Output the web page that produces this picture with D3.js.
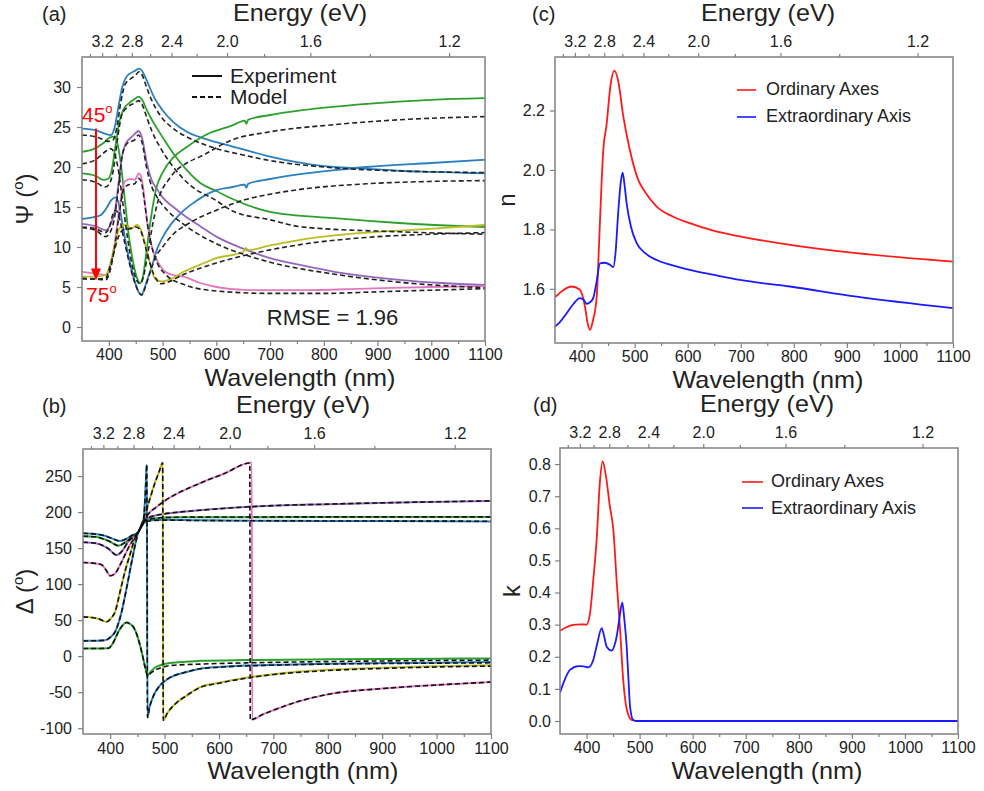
<!DOCTYPE html>
<html><head><meta charset="utf-8">
<script src="https://cdn.jsdelivr.net/npm/d3@7"></script>
<style>
body{margin:0;background:#fff;}
svg{display:block;font-family:Arial,"Liberation Sans",Helvetica,sans-serif;}
</style></head><body>
<svg id="chart" width="984" height="791"></svg>
<script>
// ---------- axis tick values ----------
const wlTicks = [400,500,600,700,800,900,1000,1100];
const wlMinor = [450,550,650,750,850,950,1050];
const eMajor = [3.2,2.8,2.4,2.0,1.6,1.2];
const eMinor = [3.4,3.0,2.6,2.2,1.8,1.4];
const psiTicks = [0,5,10,15,20,25,30];
const deltaTicks = [-100,-50,0,50,100,150,200,250];
const nTicks = [1.6,1.8,2.0,2.2];
const kTicks = [0,0.1,0.2,0.3,0.4,0.5,0.6,0.7,0.8];

// ---------- (a) Psi : experiment ----------
const psiExpBlueA = [[350,24.8],[375,24.6],[395,24.1],[404,24.0],[411,25.0],[418,27.6],[425,30.0],[432,31.2],[440,31.7],[448,32.0],[456,32.3],[462,32.0],[468,31.2],[475,30.1],[485,28.6],[500,27.1],[520,25.6],[545,24.4],[575,23.6],[600,23.1],[650,22.2],[700,21.3],[750,20.6],[800,20.1],[850,19.9],[900,19.7],[950,19.5],[1000,19.4],[1050,19.3],[1100,19.2]];
const psiExpGreenA = [[350,21.9],[370,22.2],[390,23.0],[402,23.7],[410,23.8],[415,23.2],[420,21.5],[428,17.0],[436,12.0],[444,8.5],[452,6.2],[458,5.5],[464,6.5],[470,9.5],[478,13.5],[488,17.3],[500,19.3],[520,21.2],[545,22.5],[580,24.0],[630,25.2],[653,25.8],[656,25.4],[659,25.9],[700,26.5],[760,27.1],[880,27.9],[1000,28.4],[1100,28.6]];
const psiExpGreenB = [[350,19.2],[375,18.9],[390,18.4],[398,18.5],[405,19.5],[412,22.5],[420,25.8],[428,27.3],[438,28.0],[448,28.5],[455,28.8],[462,28.4],[470,27.2],[480,25.9],[490,24.8],[505,23.2],[520,21.7],[545,19.6],[570,18.0],[600,17.0],[630,16.0],[700,14.4],[820,13.6],[940,13.0],[1100,12.5]];
const psiExpBlueB = [[350,13.5],[370,13.7],[385,14.0],[395,14.8],[405,15.9],[412,16.2],[418,15.5],[425,13.0],[433,10.0],[441,7.5],[450,5.3],[456,4.3],[461,4.0],[466,4.8],[472,6.0],[480,7.6],[490,9.8],[500,11.2],[515,12.8],[535,14.3],[553,15.3],[575,16.3],[600,17.1],[630,17.5],[653,17.8],[656,17.4],[659,17.9],[700,18.5],[756,19.1],[820,19.6],[880,20.0],[1000,20.5],[1100,20.9]];
const psiExpPurple = [[350,12.9],[375,12.6],[394,12.1],[403,12.8],[412,14.8],[419,18.5],[425,21.5],[432,23.0],[440,23.6],[448,24.1],[455,24.5],[462,23.6],[470,20.7],[480,18.3],[489,17.3],[500,16.2],[520,15.0],[539,14.0],[570,12.6],[600,11.3],[650,9.8],[700,8.6],[760,7.7],[820,6.9],[940,5.9],[1020,5.5],[1100,5.25]];
const psiExpPink = [[350,6.9],[375,6.7],[394,6.5],[405,8.2],[412,11.0],[418,14.0],[424,16.8],[430,18.2],[440,18.5],[448,18.4],[456,19.2],[460,18.8],[464,17.3],[468,15.0],[473,12.3],[479,10.3],[485,9.0],[495,7.7],[505,6.9],[520,6.5],[539,6.3],[570,5.5],[600,5.0],[660,4.6],[756,4.6],[880,4.8],[1000,5.0],[1100,5.1]];
const psiExpYellow = [[350,6.3],[375,6.3],[394,6.5],[403,8.0],[410,10.0],[415,11.5],[422,12.5],[430,12.75],[437,12.5],[442,12.3],[448,12.6],[452,12.75],[457,12.5],[461,11.9],[467,10.5],[473,9.0],[479,7.4],[485,6.1],[492,5.8],[500,5.7],[515,6.0],[539,6.9],[570,7.8],[600,8.6],[650,9.4],[655,9.9],[659,9.6],[700,10.2],[756,10.9],[880,11.8],[1004,12.3],[1100,12.75]];
// ---------- (a) Psi : model ----------
const psiModBlueA = [[350,24.0],[380,23.7],[400,23.2],[408,23.4],[415,25.0],[422,28.0],[430,30.3],[440,31.0],[450,31.5],[456,31.9],[462,31.5],[470,30.0],[480,28.3],[495,26.5],[520,24.8],[550,23.6],[600,22.3],[650,21.5],[700,20.8],[800,20.0],[900,19.6],[1000,19.4],[1100,19.3]];
const psiModGreenA = [[350,20.4],[375,20.9],[395,22.0],[403,22.3],[410,21.8],[418,19.5],[426,15.5],[435,11.0],[444,7.5],[452,5.8],[458,5.4],[464,6.2],[472,9.0],[482,13.0],[495,16.5],[510,18.3],[520,19.2],[545,20.5],[570,21.3],[630,23.4],[700,24.4],[820,25.3],[940,25.9],[1100,26.3]];
const psiModGreenB = [[350,18.4],[375,18.1],[393,17.5],[400,17.8],[408,19.5],[416,23.5],[424,26.5],[435,27.5],[448,28.0],[455,28.3],[462,27.8],[470,26.3],[480,24.5],[495,22.5],[520,20.0],[550,17.8],[600,15.8],[630,14.5],[700,13.4],[760,12.5],[940,11.9],[1100,11.6]];
const psiModBlueB = [[350,12.5],[375,12.3],[393,11.8],[400,12.3],[407,14.0],[413,14.6],[420,13.5],[428,11.0],[437,8.3],[446,6.0],[454,4.6],[461,4.0],[468,5.0],[476,6.7],[486,8.6],[500,10.0],[520,11.6],[550,13.0],[600,14.6],[653,15.9],[700,16.6],[756,17.2],[880,17.9],[1000,18.2],[1100,18.3]];
const psiModPurple = [[350,12.4],[375,12.1],[394,11.3],[402,11.8],[410,13.5],[418,17.5],[425,21.5],[435,23.0],[448,23.4],[455,24.0],[462,23.0],[470,20.0],[480,17.5],[490,16.2],[510,14.5],[540,12.8],[600,10.4],[650,9.1],[700,8.1],[820,6.6],[940,5.6],[1100,4.9]];
const psiModPink = [[350,6.1],[375,6.0],[394,5.9],[404,7.5],[412,10.5],[420,14.5],[428,17.3],[438,17.8],[448,17.9],[455,18.6],[460,18.2],[466,15.8],[472,12.8],[480,10.0],[490,8.0],[505,6.6],[540,5.3],[600,4.5],[700,4.2],[800,4.2],[900,4.4],[1000,4.6],[1100,4.8]];
const psiModYellow = [[350,6.0],[375,6.0],[394,6.1],[402,7.5],[410,9.5],[418,11.3],[428,12.2],[440,12.3],[450,12.5],[458,12.2],[465,10.8],[472,9.0],[480,7.2],[488,6.0],[496,5.4],[505,5.5],[540,6.6],[600,8.0],[656,9.0],[756,10.3],[880,11.2],[1000,11.6],[1100,11.8]];

// ---------- (b) Delta : experiment ----------
const dExpBlueTop = [[350,170.5],[372,169.5],[390,167],[403,163.5],[418,159.7],[430,163],[440,167.5],[452,172.6],[461,184],[470,188],[485,189],[500,189.3],[565,188.5],[700,188],[900,187.5],[1100,187]];
const dExpGreenTop = [[350,166.5],[372,165.7],[390,162],[400,158.8],[415,153.2],[428,158],[440,165],[452,172.6],[461,185.5],[470,189.5],[485,191.5],[500,192.5],[565,192.8],[800,193],[1100,193]];
const dExpPurple = [[350,158],[375,156.5],[396,149.5],[412,140.3],[422,146],[433,158.8],[452,172.6],[461,186.6],[470,192],[485,195.5],[500,197.5],[565,202.5],[657,207.4],[800,211],[950,213.5],[1100,215.5]];
const dExpPink = [[350,130],[370,129],[384,127],[392,120],[400,111.6],[409,114.8],[421,131],[436,154],[452,172.6],[461,187],[472,199],[485,207],[498,214.4],[565,240],[610,253.5],[660,268.8],[661,-88],[680,-81],[700,-75],[750,-62],[800,-53],[900,-45],[1000,-40],[1100,-36]];
const dExpYellow = [[350,54.6],[378,52],[393.5,47.7],[402,53],[409,61.5],[418,89],[427,117],[436,140],[445.6,163.5],[452,172.6],[461,190],[470,211],[482,240],[490,256],[496.5,268.5],[497.5,-89],[505,-79],[520,-66],[540,-55],[565,-43],[600,-37],[650,-30],[700,-25],[800,-19],[900,-16],[1000,-14],[1100,-12.5]];
const dExpBlueB = [[350,21.3],[372,21.5],[390,22],[400,26],[409,33.8],[421,61.5],[430,94],[439.5,131],[448.7,163.5],[452,172.6],[458,181],[461,187],[463.5,210],[465.5,240],[467.3,266],[468.5,-85],[472,-72],[479,-56],[490,-42],[505,-32],[540,-22],[565,-17.5],[600,-15],[700,-12],[800,-10.5],[1000,-9],[1100,-8]];
const dExpGreenB = [[350,10.6],[375,10.6],[396.5,11],[405,18],[415,33.8],[423,43],[430,46.7],[436,45],[442.5,40.7],[449,30],[454.8,15.3],[460,-1],[464,-14.8],[469,-26.5],[474,-22],[482,-16],[495,-12],[510,-9.5],[565,-6.5],[650,-5.3],[800,-4.3],[1000,-3.6],[1100,-3.2]];
// ---------- (b) Delta : model ----------
const dModBlueTop = [[350,170.5],[372,169.5],[390,167],[403,163.5],[418,159.7],[430,163],[440,167.5],[452,172.6],[461,184],[470,187.5],[485,188.5],[500,188.8],[565,188.2],[700,187.8],[900,187.5],[1100,187.3]];
const dModGreenTop = [[350,166.5],[372,165.7],[390,162],[400,158.8],[415,153.2],[428,158],[440,165],[452,172.6],[461,185.5],[470,189.5],[485,191.5],[500,192.5],[565,193],[800,193.3],[1100,193.3]];
const dModPurple = [[350,158],[375,156.5],[396,149.5],[412,140.3],[422,146],[433,158.8],[452,172.6],[461,186.6],[470,192],[485,195.5],[500,197.5],[565,202.5],[657,207.4],[800,211],[950,213.5],[1100,215.5]];
const dModPink = [[350,130],[370,129],[384,127],[392,120],[400,111.6],[409,114.8],[421,131],[436,154],[452,172.6],[461,187],[472,199],[485,207],[498,214.4],[565,240],[610,253.5],[656.5,268],[657.5,-89],[661,-88],[680,-81],[700,-75],[750,-62],[800,-53],[900,-45],[1000,-40],[1100,-36]];
const dModYellow = [[350,54.6],[378,52],[393.5,47.7],[402,53],[409,61.5],[418,89],[427,117],[436,140],[445.6,163.5],[452,172.6],[461,190],[470,211],[482,240],[490,256],[496.5,268.5],[497.5,-89],[505,-79],[520,-66],[540,-55],[565,-43.5],[600,-37.5],[650,-30.5],[700,-25.5],[800,-20],[900,-17],[1000,-15],[1100,-13.8]];
const dModBlueB = [[350,21.3],[372,21.5],[390,22],[400,26],[409,33.8],[421,61.5],[430,94],[439.5,131],[448.7,163.5],[452,172.6],[458,181],[461,187],[463.5,210],[465.5,240],[467.3,266],[468.5,-85],[472,-72],[479,-56],[490,-42],[505,-32],[540,-22],[565,-17.5],[600,-15.3],[700,-12.5],[800,-11],[1000,-9.7],[1100,-9.2]];
const dModGreenB = [[350,10.6],[375,10.6],[396.5,11],[405,18],[415,33.8],[423,43],[430,46.7],[436,45],[442.5,40.7],[449,30],[454.8,15.3],[460,-1],[464,-15],[469,-27.5],[474,-24],[482,-19.5],[495,-15.5],[510,-13],[565,-11],[650,-9.3],[800,-7.5],[1000,-6],[1100,-5.5]];

// ---------- (c) n ----------
const nOrdinary = [[350,1.572],[365,1.595],[381,1.608],[397,1.597],[406,1.545],[412,1.48],[416,1.462],[421,1.49],[428.6,1.574],[433,1.75],[438,1.966],[441,2.067],[447,2.15],[455,2.29],[461.8,2.334],[469,2.30],[478.7,2.18],[491,2.067],[507,1.966],[520,1.925],[541.6,1.877],[570,1.845],[604,1.821],[650,1.795],[700,1.776],[793,1.748],[918,1.72],[1100,1.692]];
const nExtra = [[350,1.473],[360,1.49],[372,1.518],[385,1.55],[397,1.569],[404,1.563],[409.7,1.55],[416,1.555],[422,1.569],[428,1.62],[434.8,1.686],[444,1.688],[453.6,1.681],[459.9,1.673],[464,1.72],[469,1.854],[474,1.96],[477.5,1.991],[481,1.95],[485,1.888],[493,1.81],[504,1.754],[520,1.72],[541.6,1.697],[570,1.68],[604,1.664],[650,1.647],[698.6,1.63],[793,1.608],[918.5,1.574],[1100,1.535]];
// ---------- (d) k ----------
const kOrdinary = [[350,0.281],[362,0.292],[375,0.299],[390,0.301],[400,0.30],[406.5,0.335],[412.7,0.439],[419,0.564],[425,0.74],[430.4,0.808],[436.7,0.761],[444,0.668],[450.5,0.595],[457,0.43],[463,0.29],[469,0.13],[476,0.035],[485,0.003],[495,0],[600,0],[1100,0]];
const kExtra = [[350,0.088],[358,0.125],[368.8,0.159],[384.5,0.171],[395,0.170],[403.3,0.167],[412.7,0.19],[420,0.24],[428.6,0.289],[433,0.265],[438,0.231],[447.4,0.219],[452,0.232],[456.8,0.263],[462,0.32],[467.4,0.369],[471,0.32],[475.7,0.231],[479,0.13],[482,0.045],[488,0.003],[495,0],[600,0],[1100,0]];

const legendA = ["Experiment","Model"];
const legendNK = ["Ordinary Axes","Extraordinary Axis"];
const rmseText = "RMSE = 1.96";
const angleLabels = ["45","75"];

// ---------- drawing ----------
const HC = 1239.84;
const FONT = 'Arial, "Liberation Sans", Helvetica, sans-serif';
const AX = "#808080", TXT = "#222";
const C = {blue:"#2a7fc0", green:"#2ca02c", purple:"#9467bd", pink:"#e377c2", yellow:"#bcbd22"};
const svg = d3.select("#chart");

function panel(cfg){
  const x = d3.scaleLinear().domain([350,1100]).range([cfg.l,cfg.r]);
  const y = d3.scaleLinear().domain(cfg.yDom).range([cfg.b,cfg.t]);
  const g = svg.append("g");
  const id = "clip"+cfg.id;
  svg.append("clipPath").attr("id",id).append("rect")
    .attr("x",cfg.l).attr("y",cfg.t).attr("width",cfg.r-cfg.l).attr("height",cfg.b-cfg.t);
  const axes = g.append("g");
  axes.append("g").attr("transform",`translate(0,${cfg.b})`)
    .call(d3.axisBottom(x).tickValues(wlTicks).tickSize(5).tickPadding(cfg.bpad).tickFormat(d=>String(d)));
  axes.append("g").attr("transform",`translate(0,${cfg.b})`)
    .call(d3.axisBottom(x).tickValues(wlMinor).tickSize(3).tickFormat(""));
  axes.append("g").attr("transform",`translate(0,${cfg.t})`)
    .call(d3.axisTop(x).tickValues(eMajor.map(e=>HC/e)).tickSize(4).tickPadding(6).tickFormat(l=>(HC/l).toFixed(1)));
  axes.append("g").attr("transform",`translate(0,${cfg.t})`)
    .call(d3.axisTop(x).tickValues(eMinor.map(e=>HC/e)).tickSize(3).tickFormat(""));
  axes.append("g").attr("transform",`translate(${cfg.l},0)`)
    .call(d3.axisLeft(y).tickValues(cfg.yTicks).tickSize(5).tickPadding(cfg.lpad).tickFormat(cfg.yFmt));
  axes.selectAll(".domain").remove();
  axes.selectAll(".tick line").attr("stroke",AX).attr("stroke-width",1.2);
  axes.selectAll("g").attr("font-family",FONT).attr("font-size",16);
  axes.selectAll(".tick text").attr("fill",TXT);
  const plot = g.append("g").attr("clip-path",`url(#${id})`);
  const P = {x,y,g,plot,cfg};
  g.append("text").attr("x",cfg.titleX).attr("y",cfg.t-36).attr("text-anchor","middle")
    .attr("font-size",24).attr("fill",TXT).attr("textLength",134).attr("lengthAdjust","spacingAndGlyphs").text("Energy (eV)");
  g.append("text").attr("x",cfg.titleX).attr("y",cfg.b+44.5).attr("text-anchor","middle")
    .attr("font-size",24).attr("fill",TXT).attr("textLength",191).attr("lengthAdjust","spacingAndGlyphs").text("Wavelength (nm)");
  g.append("text").attr("x",cfg.tagX).attr("y",cfg.t-36).attr("font-size",20).attr("fill",TXT).text(cfg.tag);
  return P;
}
function frame(P){
  const c=P.cfg;
  P.g.append("rect").attr("x",c.l).attr("y",c.t).attr("width",c.r-c.l).attr("height",c.b-c.t)
    .attr("fill","none").attr("stroke",AX).attr("stroke-width",1.5);
}
function line(P,data,color,w,dash){
  P.plot.append("path").datum(data).attr("fill","none").attr("stroke",color)
    .attr("stroke-width",w).attr("stroke-dasharray",dash||null).attr("stroke-linejoin","round")
    .attr("d",d3.line().x(d=>P.x(d[0])).y(d=>P.y(d[1])).curve(d3.curveMonotoneX));
}
function supText(parent,x,y,base,sup,tail,size,fill,rot){
  const t = parent.append("text").attr("font-size",size).attr("fill",fill)
    .attr("text-anchor",rot?"middle":"start")
    .attr("transform",rot?`translate(${x},${y}) rotate(-90)`:`translate(${x},${y})`);
  t.append("tspan").text(base);
  t.append("tspan").attr("dy",-size*0.42).attr("font-size",size*0.62).text(sup);
  if(tail) t.append("tspan").attr("dy",size*0.42).text(tail);
  return t;
}

// ----- panel (a)
const A = panel({id:"a",l:82,r:485,t:57,b:341,yDom:[-1.75,33.75],yTicks:psiTicks,yFmt:d=>String(d),bpad:3,lpad:6,titleX:300,tagX:42,tag:"(a)"});
[[psiExpBlueA,C.blue],[psiExpGreenA,C.green],[psiExpGreenB,C.green],[psiExpBlueB,C.blue],[psiExpPurple,C.purple],[psiExpPink,C.pink],[psiExpYellow,C.yellow]]
  .forEach(([d,c])=>line(A,d,c,1.8));
[psiModBlueA,psiModGreenA,psiModGreenB,psiModBlueB,psiModPurple,psiModPink,psiModYellow]
  .forEach(d=>line(A,d,"#222",1.6,"5,3"));
frame(A);
supText(A.g,33,(A.cfg.t+A.cfg.b)/2,"Ψ (","o",")",24,TXT,true);
A.g.append("line").attr("x1",192).attr("x2",222).attr("y1",76).attr("y2",76).attr("stroke","#111").attr("stroke-width",2);
A.g.append("line").attr("x1",192).attr("x2",222).attr("y1",97).attr("y2",97).attr("stroke","#111").attr("stroke-width",2).attr("stroke-dasharray","5,3");
A.g.append("text").attr("x",230).attr("y",83).attr("font-size",21).attr("fill",TXT).text(legendA[0]);
A.g.append("text").attr("x",230).attr("y",104).attr("font-size",21).attr("fill",TXT).text(legendA[1]);
A.g.append("text").attr("x",A.x(694)).attr("y",A.y(0.25)).attr("font-size",22).attr("fill",TXT).text(rmseText);
const ax0 = A.x(376);
A.g.append("line").attr("x1",ax0).attr("x2",ax0).attr("y1",A.y(24.8)).attr("y2",A.y(7.0)).attr("stroke","#ff0000").attr("stroke-width",2);
A.g.append("path").attr("fill","#ff0000")
  .attr("d",`M${ax0-5},${A.y(7.3)} L${ax0+5},${A.y(7.3)} L${ax0},${A.y(5.8)} Z`);
supText(A.g,A.x(350),A.y(25.6),angleLabels[0],"o","",21,"#ff0000",false);
supText(A.g,A.x(357.5),A.y(3.1),angleLabels[1],"o","",21,"#ff0000",false);

// ----- panel (b)
const B = panel({id:"b",l:83,r:491,t:449,b:734,yDom:[-108,287.5],yTicks:deltaTicks,yFmt:d=>String(d),bpad:4,lpad:6,titleX:303,tagX:42,tag:"(b)"});
[[dExpBlueTop,C.blue],[dExpGreenTop,C.green],[dExpPurple,C.purple],[dExpPink,C.pink],[dExpYellow,C.yellow],[dExpBlueB,C.blue],[dExpGreenB,C.green]]
  .forEach(([d,c])=>line(B,d,c,2));
[dModBlueTop,dModGreenTop,dModPurple,dModPink,dModYellow,dModBlueB,dModGreenB]
  .forEach(d=>line(B,d,"#111",1.6,"5,3"));
frame(B);
supText(B.g,33,(B.cfg.t+B.cfg.b)/2,"Δ (","o",")",24,TXT,true);

// ----- panel (c)
const Cp = panel({id:"c",l:555,r:953,t:57,b:343,yDom:[1.418,2.38],yTicks:nTicks,yFmt:d3.format(".1f"),bpad:3,lpad:5,titleX:768,tagX:532,tag:"(c)"});
line(Cp,nOrdinary,"#ff1a1a",1.8);
line(Cp,nExtra,"#1a1aff",1.8);
frame(Cp);
Cp.g.append("text").attr("transform",`translate(515,${(Cp.cfg.t+Cp.cfg.b)/2}) rotate(-90)`).attr("text-anchor","middle").attr("font-size",24).attr("fill",TXT).text("n");
Cp.g.append("line").attr("x1",737).attr("x2",756).attr("y1",90).attr("y2",90).attr("stroke","#ff1a1a").attr("stroke-width",1.6);
Cp.g.append("line").attr("x1",737).attr("x2",756).attr("y1",117).attr("y2",117).attr("stroke","#1a1aff").attr("stroke-width",1.6);
Cp.g.append("text").attr("x",766).attr("y",95).attr("font-size",18).attr("fill",TXT).text(legendNK[0]);
Cp.g.append("text").attr("x",766).attr("y",122).attr("font-size",18).attr("fill",TXT).text(legendNK[1]);

// ----- panel (d)
const D = panel({id:"d",l:560,r:958,t:448,b:734,yDom:[-0.0405,0.85],yTicks:kTicks,yFmt:d3.format(".1f"),bpad:3,lpad:4,titleX:767,tagX:533,tag:"(d)"});
line(D,kOrdinary,"#ff1a1a",1.8);
line(D,kExtra,"#1a1aff",1.8);
frame(D);
D.g.append("text").attr("transform",`translate(520,${(D.cfg.t+D.cfg.b)/2}) rotate(-90)`).attr("text-anchor","middle").attr("font-size",24).attr("fill",TXT).text("k");
D.g.append("line").attr("x1",742).attr("x2",763).attr("y1",482).attr("y2",482).attr("stroke","#ff1a1a").attr("stroke-width",1.6);
D.g.append("line").attr("x1",742).attr("x2",763).attr("y1",508).attr("y2",508).attr("stroke","#1a1aff").attr("stroke-width",1.6);
D.g.append("text").attr("x",771).attr("y",487).attr("font-size",18).attr("fill",TXT).text(legendNK[0]);
D.g.append("text").attr("x",771).attr("y",514).attr("font-size",18).attr("fill",TXT).text(legendNK[1]);
</script></body></html>
